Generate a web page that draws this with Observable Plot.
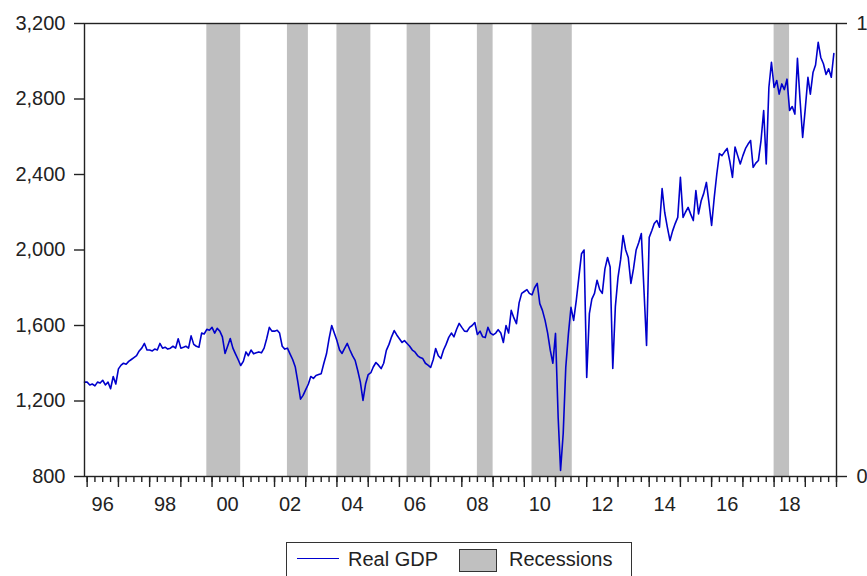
<!DOCTYPE html>
<html>
<head>
<meta charset="utf-8">
<script src="https://cdn.jsdelivr.net/npm/d3@7"></script>
<script src="https://cdn.jsdelivr.net/npm/@observablehq/plot@0.6"></script>
<style>
  html, body { margin: 0; padding: 0; background: #fff; overflow: hidden; }
  body { width: 867px; height: 576px; position: relative; font-family: "Liberation Sans", Arial, sans-serif; }
  #chart { position: absolute; left: 0; top: 0; }
  #legend { position: absolute; left: 286px; top: 542px; width: 346px; height: 40px; border: 1.3px solid #333; box-sizing: border-box; }
  #legend .lbl { position: absolute; font-size: 20px; color: #222; top: 5px; }
  #legend .line { position: absolute; left: 10px; top: 15px; width: 42px; height: 0; border-top: 1.5px solid #0000d0; }
  #legend .swatch { position: absolute; left: 172px; top: 6px; width: 38px; height: 23px; background: #c0c0c0; border: 1.5px solid #333; box-sizing: border-box; }
</style>
</head>
<body>
<div id="chart"></div>
<div id="legend">
  <div class="line"></div><span class="lbl" style="left:61px">Real GDP</span>
  <div class="swatch"></div><span class="lbl" style="left:222px">Recessions</span>
</div>
<script>
// ---- data ----
const seriesStart = "1995-12-01";
const gdp = [
  1300, // 1995-12
  1300, 1285, 1290, 1280, 1300, 1295, 1310, 1285, 1300, 1265, 1330, 1290, // 1996
  1370, 1390, 1400, 1395, 1410, 1420, 1430, 1440, 1465, 1480, 1505, 1470, // 1997
  1470, 1465, 1475, 1470, 1505, 1480, 1485, 1475, 1480, 1490, 1480, 1530, // 1998
  1480, 1485, 1490, 1480, 1545, 1500, 1490, 1485, 1560, 1555, 1580, 1575, // 1999
  1590, 1560, 1585, 1570, 1540, 1452, 1490, 1531, 1480, 1450, 1420, 1388, // 2000
  1410, 1460, 1440, 1470, 1450, 1455, 1460, 1455, 1480, 1530, 1590, 1570, // 2001
  1570, 1575, 1560, 1490, 1475, 1480, 1450, 1420, 1380, 1300, 1210, 1230, // 2002
  1260, 1290, 1330, 1320, 1335, 1340, 1345, 1400, 1450, 1530, 1600, 1560, // 2003
  1520, 1470, 1452, 1480, 1505, 1470, 1440, 1415, 1360, 1300, 1203, 1290, // 2004
  1340, 1350, 1380, 1404, 1390, 1372, 1400, 1468, 1500, 1540, 1573, 1550, // 2005
  1530, 1510, 1520, 1505, 1490, 1470, 1460, 1441, 1430, 1425, 1400, 1390, // 2006
  1378, 1420, 1478, 1440, 1425, 1470, 1500, 1537, 1560, 1540, 1580, 1611, // 2007
  1590, 1570, 1568, 1590, 1600, 1616, 1552, 1570, 1540, 1536, 1590, 1560, // 2008
  1550, 1560, 1578, 1560, 1510, 1600, 1560, 1680, 1640, 1610, 1720, 1770, // 2009
  1780, 1790, 1770, 1762, 1800, 1823, 1716, 1680, 1627, 1560, 1468, 1400, // 2010
  1558, 1113, 832, 1028, 1378, 1557, 1696, 1627, 1733, 1855, 1980, 2000,  // 2011
  1325, 1663, 1740, 1770, 1840, 1790, 1770, 1900, 1960, 1910, 1372, 1700, // 2012
  1855, 1950, 2077, 2000, 1960, 1823, 1900, 2000, 2040, 2087, 1785, 1494, // 2013
  2067, 2103, 2140, 2156, 2121, 2325, 2200, 2121, 2050, 2100, 2140, 2173, // 2014
  2385, 2173, 2200, 2226, 2190, 2156, 2315, 2191, 2261, 2300, 2358, 2250, // 2015
  2130, 2279, 2400, 2511, 2500, 2520, 2538, 2470, 2385, 2546, 2500, 2456, // 2016
  2500, 2538, 2560, 2580, 2438, 2460, 2474, 2580, 2739, 2456, 2861, 2994, // 2017
  2861, 2898, 2826, 2880, 2850, 2905, 2739, 2760, 2720, 3015, 2792, 2596, // 2018
  2750, 2915, 2826, 2940, 2980, 3100, 3020, 2987, 2930, 2960, 2915, 3041  // 2019
];
const recStarts = ["1999-11-01", "2002-06-01", "2004-01-01", "2006-04-01", "2008-07-01", "2010-04-01", "2018-01-01"];
const recEnds   = ["2000-12-01", "2003-02-01", "2005-02-01", "2007-01-01", "2009-01-01", "2011-07-16", "2018-07-01"];
const yTicks = [800, 1200, 1600, 2000, 2400, 2800, 3200];
const rightTicks = [0, 1];
const xDomain = ["1995-12-01", "2020-01-01"];
const labelYears = [1996, 1998, 2000, 2002, 2004, 2006, 2008, 2010, 2012, 2014, 2016, 2018];

// ---- build tables ----
const t0 = new Date(seriesStart);
const series = gdp.map((v, i) => ({date: d3.utcMonth.offset(t0, i), value: v}));
const recessions = recStarts.map((s, i) => ({start: new Date(s), end: new Date(recEnds[i])}));
const xd = xDomain.map(d => new Date(d));
const yDomain = [yTicks[0], yTicks[yTicks.length - 1]];
const rightToLeft = r => yDomain[0] + r * (yDomain[1] - yDomain[0]);
const leftToRight = v => Math.round((v - yDomain[0]) / (yDomain[1] - yDomain[0]));
const yearTicks = d3.utcYear.range(d3.utcYear.ceil(xd[0]), d3.utcDay.offset(xd[1], 1));
const quarterTicks = d3.utcMonth.every(3).range(d3.utcMonth.ceil(xd[0]), d3.utcDay.offset(xd[1], 1));
const labelTicks = labelYears.map(y => new Date(Date.UTC(y, 6, 1)));
const fmtComma = d3.format(",");

const chart = Plot.plot({
  width: 867,
  height: 540,
  marginLeft: 84,
  marginRight: 31,
  marginTop: 23,
  marginBottom: 64,
  style: {fontFamily: "'Liberation Sans', Arial, sans-serif", fontSize: "20px", color: "#222", background: "white"},
  x: {type: "utc", domain: xd},
  y: {domain: yDomain},
  marks: [
    Plot.rect(recessions, {x1: "start", x2: "end", fill: "#c0c0c0"}),
    Plot.line(series, {x: "date", y: "value", stroke: "#0000cc", strokeWidth: 1.6}),
    Plot.frame({stroke: "#222", strokeWidth: 1.4}),
    Plot.axisY({ticks: yTicks, tickFormat: d => fmtComma(d), tickSize: 10, tickPadding: 9, label: null, stroke: "#222", strokeWidth: 1.4}),
    Plot.axisY({anchor: "right", ticks: rightTicks.map(rightToLeft), tickFormat: v => String(leftToRight(v)), tickSize: 10, tickPadding: 10, label: null, stroke: "#222", strokeWidth: 1.4}),
    Plot.axisX({ticks: quarterTicks, tickSize: 6, tickFormat: () => "", label: null, stroke: "#222", strokeWidth: 1.4}),
    Plot.axisX({ticks: yearTicks, tickSize: 11, tickFormat: () => "", label: null, stroke: "#222", strokeWidth: 1.4}),
    Plot.axisX({ticks: labelTicks, tickSize: 0, tickPadding: 20, tickFormat: d3.utcFormat("%y"), label: null})
  ]
});
document.getElementById("chart").appendChild(chart);
</script>
</body>
</html>
